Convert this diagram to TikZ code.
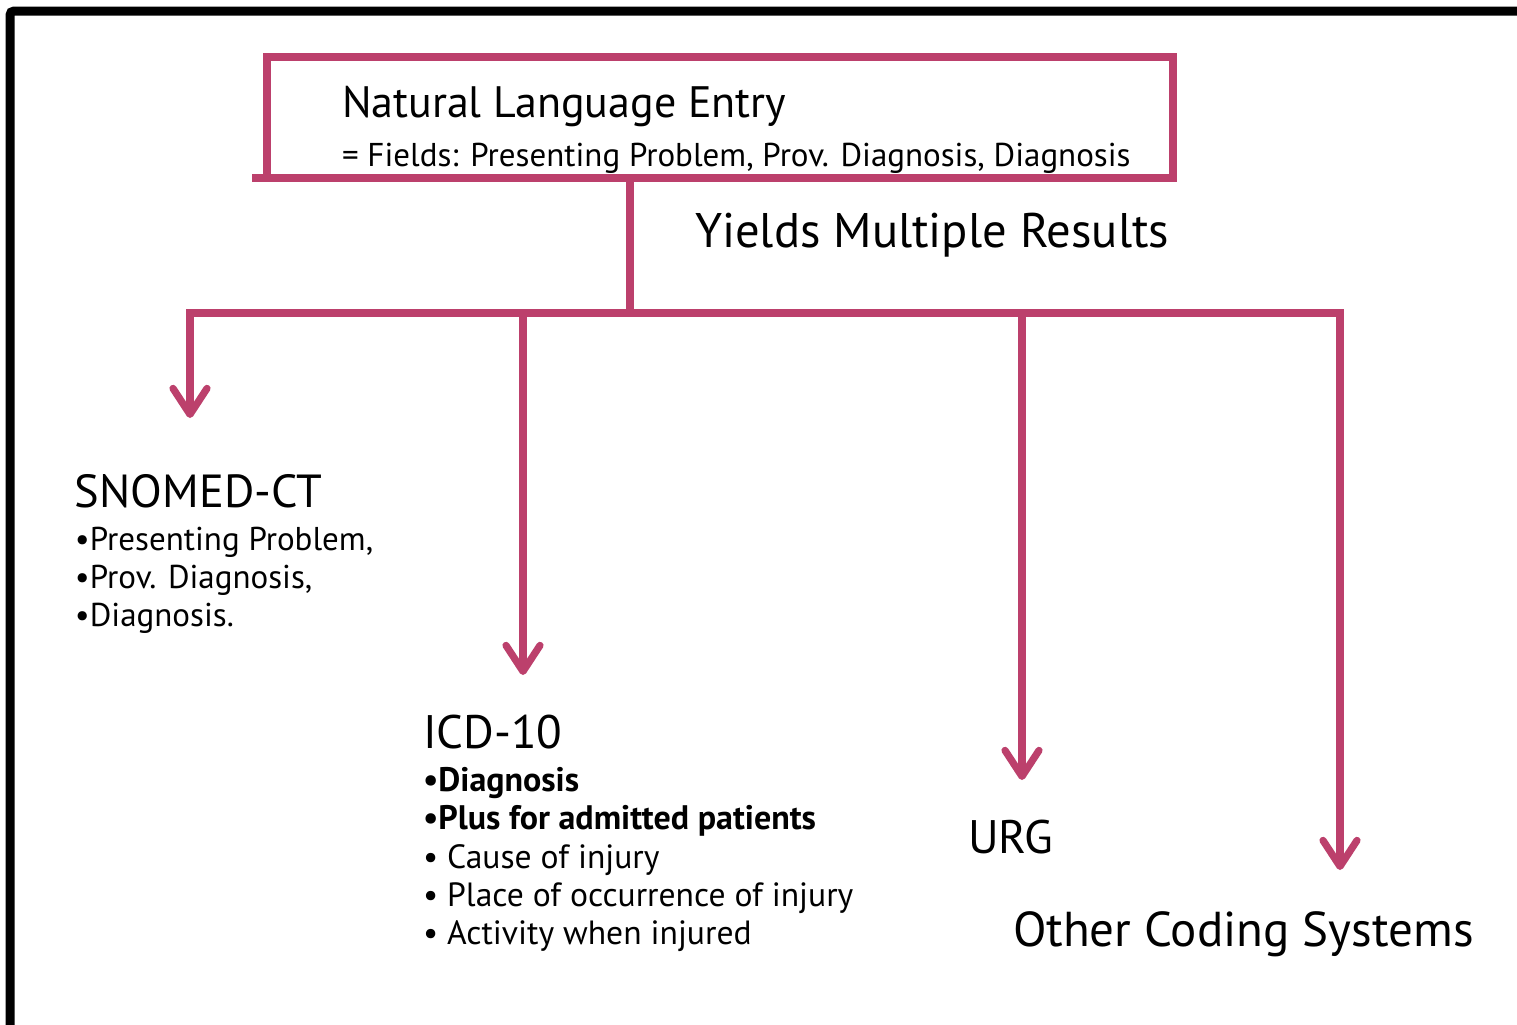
\documentclass[tikz,border=0pt]{standalone}
\usepackage{fontspec}
\setmainfont{PT Sans}
\usetikzlibrary{arrows.meta}
\definecolor{pinkline}{RGB}{188,64,108}
\begin{document}
\begin{tikzpicture}[x=0.5pt,y=-0.5pt,
  frame/.style={line width=4.5pt, black, rounded corners=2pt},
  link/.style={line width=3.6pt, pinkline},
  arr/.style={link, -{Straight Barb[length=13pt,width=17pt,round]}},
  lbl/.style={anchor=base west, inner sep=0pt, outer sep=0pt}]
\useasboundingbox (0,0) rectangle (1517,1024);
\fill[white] (0,0) rectangle (1517,1024);
% black frame
\draw[frame] (10,1030) -- (10,11) -- (1525,11);

% top box
\node[draw=pinkline, line width=3.6pt, minimum width=453pt, minimum height=60.5pt, anchor=north west, inner sep=0pt, outer sep=0pt] (box) at (267,57) {};
\draw[link] (252,178) -- (box.south east);
\node[lbl, font=\fontsize{22}{24}\selectfont] (title) at (342,117) {Natural Language Entry};
\node[lbl, font=\fontsize{16.5}{19}\selectfont] (fields) at (342,166) {= Fields: Presenting Problem, Prov. Diagnosis, Diagnosis};

\node[lbl, font=\fontsize{24.3}{26}\selectfont] (yields) at (695,247) {Yields Multiple Results};

% connectors
\coordinate (top) at (630,178);
\coordinate (j) at (630,313);
\coordinate (b1) at (190,313);
\coordinate (b2) at (523,313);
\coordinate (b3) at (1022,313);
\coordinate (b4) at (1340,313);
\coordinate (t1) at (190,418);
\coordinate (t2) at (523,675);
\coordinate (t3) at (1022,780);
\coordinate (t4) at (1340,870);

\draw[link] (top) -- (j);
\draw[link, line cap=rect] (b1) -- (b4);
\draw[arr] (b1) -- (t1);
\draw[arr] (b2) -- (t2);
\draw[arr] (b3) -- (t3);
\draw[arr] (b4) -- (t4);

% SNOMED-CT
\node[lbl, font=\fontsize{23.2}{26}\selectfont] (snomed) at (75,507) {SNOMED-CT};
\node[lbl, font=\fontsize{16.5}{19}\selectfont] (s1) at (75,550) {•Presenting Problem,};
\node[lbl, font=\fontsize{16.5}{19}\selectfont] (s2) at (75,588) {•Prov. Diagnosis,};
\node[lbl, font=\fontsize{16.5}{19}\selectfont] (s3) at (75,626) {•Diagnosis.};

% ICD-10
\node[lbl, font=\fontsize{23.5}{26}\selectfont] (icd) at (423,748) {ICD-10};
\node[lbl, font=\fontsize{17}{19}\bfseries\selectfont] (i1) at (423,791) {•Diagnosis};
\node[lbl, font=\fontsize{17}{19}\bfseries\selectfont] (i2) at (423,829) {•Plus for admitted patients};
\node[lbl, font=\fontsize{16.8}{19}\selectfont] (i3) at (423,868) {• Cause of injury};
\node[lbl, font=\fontsize{16.8}{19}\selectfont] (i4) at (423,906) {• Place of occurrence of injury};
\node[lbl, font=\fontsize{16.8}{19}\selectfont] (i5) at (423,944) {• Activity when injured};

% URG and others
\node[lbl, font=\fontsize{23.5}{26}\selectfont] (urg) at (968,853) {URG};
\node[lbl, font=\fontsize{24.5}{27}\selectfont] (other) at (1013,946) {Other Coding Systems};
\end{tikzpicture}
\end{document}
